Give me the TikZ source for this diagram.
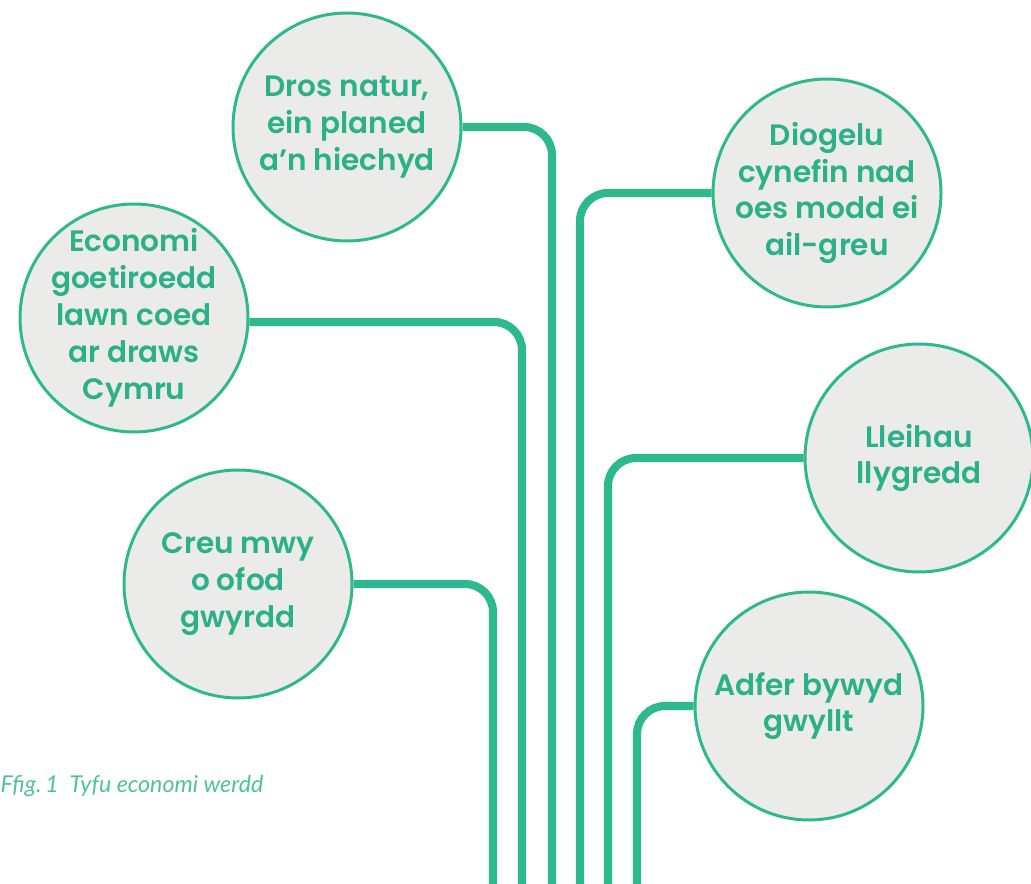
\documentclass[tikz,border=0pt]{standalone}
\usepackage{fontspec}
\setmainfont{Poppins}[BoldFont={Poppins SemiBold}]
\newfontfamily\capfont{Lato}
\usetikzlibrary{positioning}
\definecolor{leaf}{HTML}{2EB88E}
\definecolor{leaftext}{HTML}{2BB087}
\definecolor{bubble}{HTML}{EBECE9}
\definecolor{capgreen}{HTML}{4FC29C}
\tikzset{
  idea/.style={circle, draw=leaf, line width=0.85pt, fill=bubble, minimum size=2.28cm,
    inner sep=-0.8cm, align=center, text=leaftext,
    font=\fontsize{8.4}{10.5}\selectfont\bfseries},
  stem/.style={draw=leaf, line width=2.3pt, rounded corners=0.28cm}
}
\begin{document}
\begin{tikzpicture}[x=1cm,y=1cm]
	\useasboundingbox (0,0) rectangle (10.31,-8.84);
	% bubbles
	\node[idea] (natur)   at (3.47,-1.27) {Dros natur,\\ein planed\\a’n hiechyd};
	\node[idea] (economi) at (1.34,-3.18) {Economi\\goetiroedd\\lawn coed\\ar draws\\Cymru};
	\node[idea] (gofod)   at (2.38,-5.84) {Creu mwy\\o ofod\\gwyrdd};
	\node[idea] (cynefin) at (8.27,-1.93) {Diogelu\\cynefin nad\\oes modd ei\\ail-greu};
	\node[idea] (llygredd) at (9.19,-4.58) {Lleihau\\llygredd};
	\node[idea] (bywyd)   at (8.09,-7.06) {Adfer bywyd\\gwyllt};
	% stems run off the bottom edge
	\coordinate (s1) at (4.93,-9.0);
	\coordinate (s2) at (5.22,-9.0);
	\coordinate (s3) at (5.52,-9.0);
	\coordinate (s4) at (5.80,-9.0);
	\coordinate (s5) at (6.08,-9.0);
	\coordinate (s6) at (6.37,-9.0);
	\draw[stem] (gofod.east) -| (s1);
	\draw[stem] ([yshift=-0.04cm]economi.east) -| (s2);
	\draw[stem] (natur.east) -| (s3);
	\draw[stem] (cynefin.west) -| (s4);
	\draw[stem] (llygredd.west) -| (s5);
	\draw[stem] (bywyd.west) -| (s6);
	% caption
	\node[anchor=base west, inner sep=0pt, text=capgreen, font=\capfont\itshape\fontsize{6.6}{8}\selectfont] (fig) at (0.0,-7.92) {Ffig.\,1\ \ Tyfu economi werdd};
\end{tikzpicture}
\end{document}
